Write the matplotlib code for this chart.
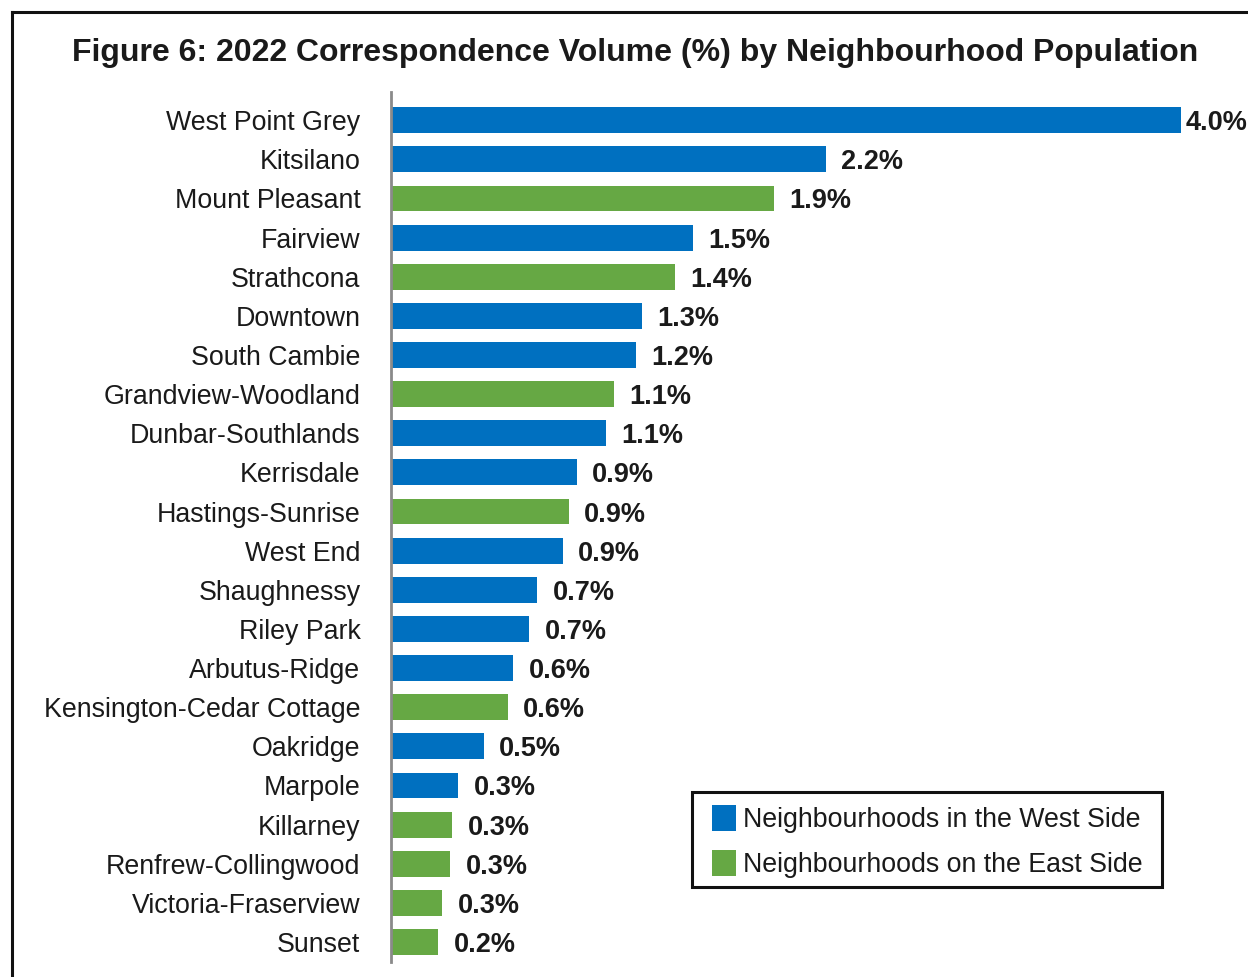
import matplotlib
matplotlib.use("Agg")
import matplotlib.pyplot as plt
from matplotlib.patches import Patch, Rectangle
from matplotlib.lines import Line2D

plt.rcParams['font.family'] = ['Liberation Sans', 'DejaVu Sans']

neighbourhoods = [
    "West Point Grey", "Kitsilano", "Mount Pleasant", "Fairview", "Strathcona",
    "Downtown", "South Cambie", "Grandview-Woodland", "Dunbar-Southlands",
    "Kerrisdale", "Hastings-Sunrise", "West End", "Shaughnessy", "Riley Park",
    "Arbutus-Ridge", "Kensington-Cedar Cottage", "Oakridge", "Marpole",
    "Killarney", "Renfrew-Collingwood", "Victoria-Fraserview", "Sunset",
]
volume_pct = [
    4.00, 2.20, 1.94, 1.53, 1.44, 1.27, 1.24, 1.13, 1.09, 0.94, 0.90,
    0.87, 0.74, 0.70, 0.62, 0.59, 0.47, 0.34, 0.31, 0.30, 0.26, 0.24,
]
side = [
    "West", "West", "East", "West", "East", "West", "West", "East", "West",
    "West", "East", "West", "West", "West", "West", "East", "West", "West",
    "East", "East", "East", "East",
]
side_colors = {"West": "#0070C0", "East": "#66A844"}
legend_labels = {"West": "Neighbourhoods in the West Side",
                 "East": "Neighbourhoods on the East Side"}
title = "Figure 6: 2022 Correspondence Volume (%) by Neighbourhood Population"

W, H = 1248, 977
fig = plt.figure(figsize=(W / 100, H / 100), dpi=100)
text_color = "#1a1a1a"

# outer frame (top and left edges visible)
fig.add_artist(Line2D([12 / W, 12 / W], [0, 1 - 12 / H], transform=fig.transFigure,
                      color="#111111", lw=2.2))
fig.add_artist(Line2D([12 / W, 1], [1 - 12 / H, 1 - 12 / H], transform=fig.transFigure,
                      color="#111111", lw=2.2))

fig.text(635 / W, 1 - 53 / H, title, ha="center", va="center",
         fontsize=23, fontweight="bold", color=text_color)

ax_left, ax_right = 391 / W, 1240 / W
ax_top, ax_bottom = 1 - 92 / H, 1 - 962 / H
ax = fig.add_axes([ax_left, ax_bottom, ax_right - ax_left, ax_top - ax_bottom])

ypos = list(range(len(neighbourhoods)))
colors = [side_colors[s] for s in side]
ax.barh(ypos, volume_pct, height=0.66, color=colors, zorder=2)

ax.set_ylim(len(neighbourhoods) - 1 + 0.51, -0.72)
ax.set_xlim(0, (1240 - 391) / 197.5)

for s in ["top", "right", "bottom"]:
    ax.spines[s].set_visible(False)
ax.spines["left"].set_color("#8a8a8a")
ax.spines["left"].set_linewidth(2)
ax.set_xticks([])
ax.set_yticks(ypos)
ax.set_yticklabels(neighbourhoods, fontsize=19.3, color=text_color)
ax.tick_params(axis="y", length=0, pad=22)

vmax = max(volume_pct)
for y, v in zip(ypos, volume_pct):
    off = 3.5 if v == vmax else 11
    ax.annotate(f"{v:.1f}%", xy=(v, y), xytext=(off, 0), textcoords="offset points",
                ha="left", va="center_baseline", fontsize=19.5, fontweight="bold",
                color=text_color, annotation_clip=False)

# legend box
fig.add_artist(Rectangle((692 / W, 1 - 887 / H), (1162 - 692) / W, (887 - 792) / H,
                         transform=fig.transFigure, facecolor="white",
                         edgecolor="#111111", lw=2.2, zorder=3))
handles = [Patch(facecolor=side_colors[k], edgecolor="none") for k in ["West", "East"]]
leg = fig.legend(handles, [legend_labels[k] for k in ["West", "East"]],
                 loc="upper left", bbox_to_anchor=(712 / W, 1 - 805 / H),
                 bbox_transform=fig.transFigure, fontsize=19.3, frameon=False,
                 handlelength=0.88, handleheight=1.12,
                 handletextpad=0.28, labelspacing=0.62, borderpad=0,
                 borderaxespad=0)
leg.set_zorder(4)
for t in leg.get_texts():
    t.set_color(text_color)

fig.savefig("out.png", dpi=100)
